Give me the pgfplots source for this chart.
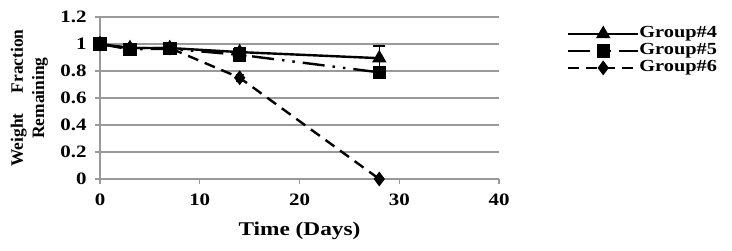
\documentclass[border=0pt]{standalone}
\usepackage{pgfplots}
\pgfplotsset{compat=1.18}
\usepackage{fontspec}
\setmainfont{Liberation Serif}[FakeStretch=1.2]
\newfontfamily\ylabfont{Liberation Serif}
\begin{document}
\begin{tikzpicture}
\path[use as bounding box] (-100bp,-72bp) rectangle (632bp,179bp);
\begin{axis}[
  scale only axis, width=399bp, height=162bp,
  at={(0,0)}, anchor=south west,
  xmin=0, xmax=40, ymin=0, ymax=1.2,
  xtick={0,10,20,30,40}, ytick={0,0.2,...,1.2},
  axis x line*=bottom, axis y line*=left,
  axis line style={draw=black!40, line width=1.4bp, -},
  xtick style={draw=black!40, line width=1.4bp},
  ytick style={draw=black!40, line width=1.4bp},
  major tick length=5bp,
  xtick align=outside, ytick align=outside,
  ymajorgrids, grid style={draw=black!40, line width=1.4bp},
  /pgf/number format/assume math mode=true,
  tick label style={font=\fontsize{17.5}{18}\selectfont\bfseries},
  xticklabel style={yshift=-6bp},
  yticklabel style={xshift=-5bp},
  xlabel={Time (Days)},
  ylabel={\fontsize{17.5}{25}\ylabfont\bfseries\setlength{\tabcolsep}{0pt}\renewcommand{\arraystretch}{0.85}\begin{tabular}{c}Weight\hspace{20bp}Fraction\\Remaining\end{tabular}},
  xlabel style={font=\fontsize{19.5}{20}\selectfont\bfseries, yshift=-10bp},
  ylabel style={yshift=3bp},
  legend style={at={(axis description cs:1.17,0.94)}, anchor=north west, draw=none, font=\fontsize{17}{18}\selectfont\bfseries, row sep=3bp, inner sep=0bp,
    nodes={inner sep=0bp, text height=11bp, text depth=3bp}},
  legend cell align=left,
  legend image code/.code={\draw[#1] (0bp,0bp) -- (70bp,0bp); \path[#1, solid] plot coordinates {(35bp,0bp)};},
]
\addplot[black, line width=2.4bp, mark=triangle*, mark size=6bp,
  error bars/.cd, y dir=both, y explicit, error bar style={line width=1.4bp}, error mark options={rotate=90, mark size=6bp, line width=1.4bp}]
  coordinates {(0,1) +- (0,0.01) (3,0.97) +- (0,0.01) (7,0.97) +- (0,0.02) (14,0.94) +- (0,0.03) (28,0.895) +- (0,0.09)};
\addlegendentry{Group\#4}
\addplot[black, line width=2.4bp, mark=square*, mark size=5.5bp, dash pattern=on 22bp off 8bp on 2.5bp off 8bp on 2.5bp off 8bp,
  mark options={solid},
  error bars/.cd, y dir=both, y explicit, error bar style={line width=1.4bp, solid}, error mark options={rotate=90, mark size=5bp, line width=1.4bp}]
  coordinates {(0,1) +- (0,0.01) (3,0.96) +- (0,0.02) (7,0.965) +- (0,0.02) (14,0.92) +- (0,0.03) (28,0.79) +- (0,0.03)};
\addlegendentry{Group\#5}
\addplot[black, line width=2.4bp, mark=diamond*, mark size=5.5bp, dash pattern=on 11bp off 7bp,
  mark options={solid},
  error bars/.cd, y dir=both, y explicit, error bar style={line width=1.4bp, solid}, error mark options={rotate=90, mark size=4bp, line width=1.4bp}]
  coordinates {(0,1) +- (0,0.01) (3,0.97) +- (0,0.01) (7,0.97) +- (0,0.01) (14,0.75) +- (0,0.025) (28,0.0) +- (0,0.005)};
\addlegendentry{Group\#6}
\end{axis}
\end{tikzpicture}
\end{document}
